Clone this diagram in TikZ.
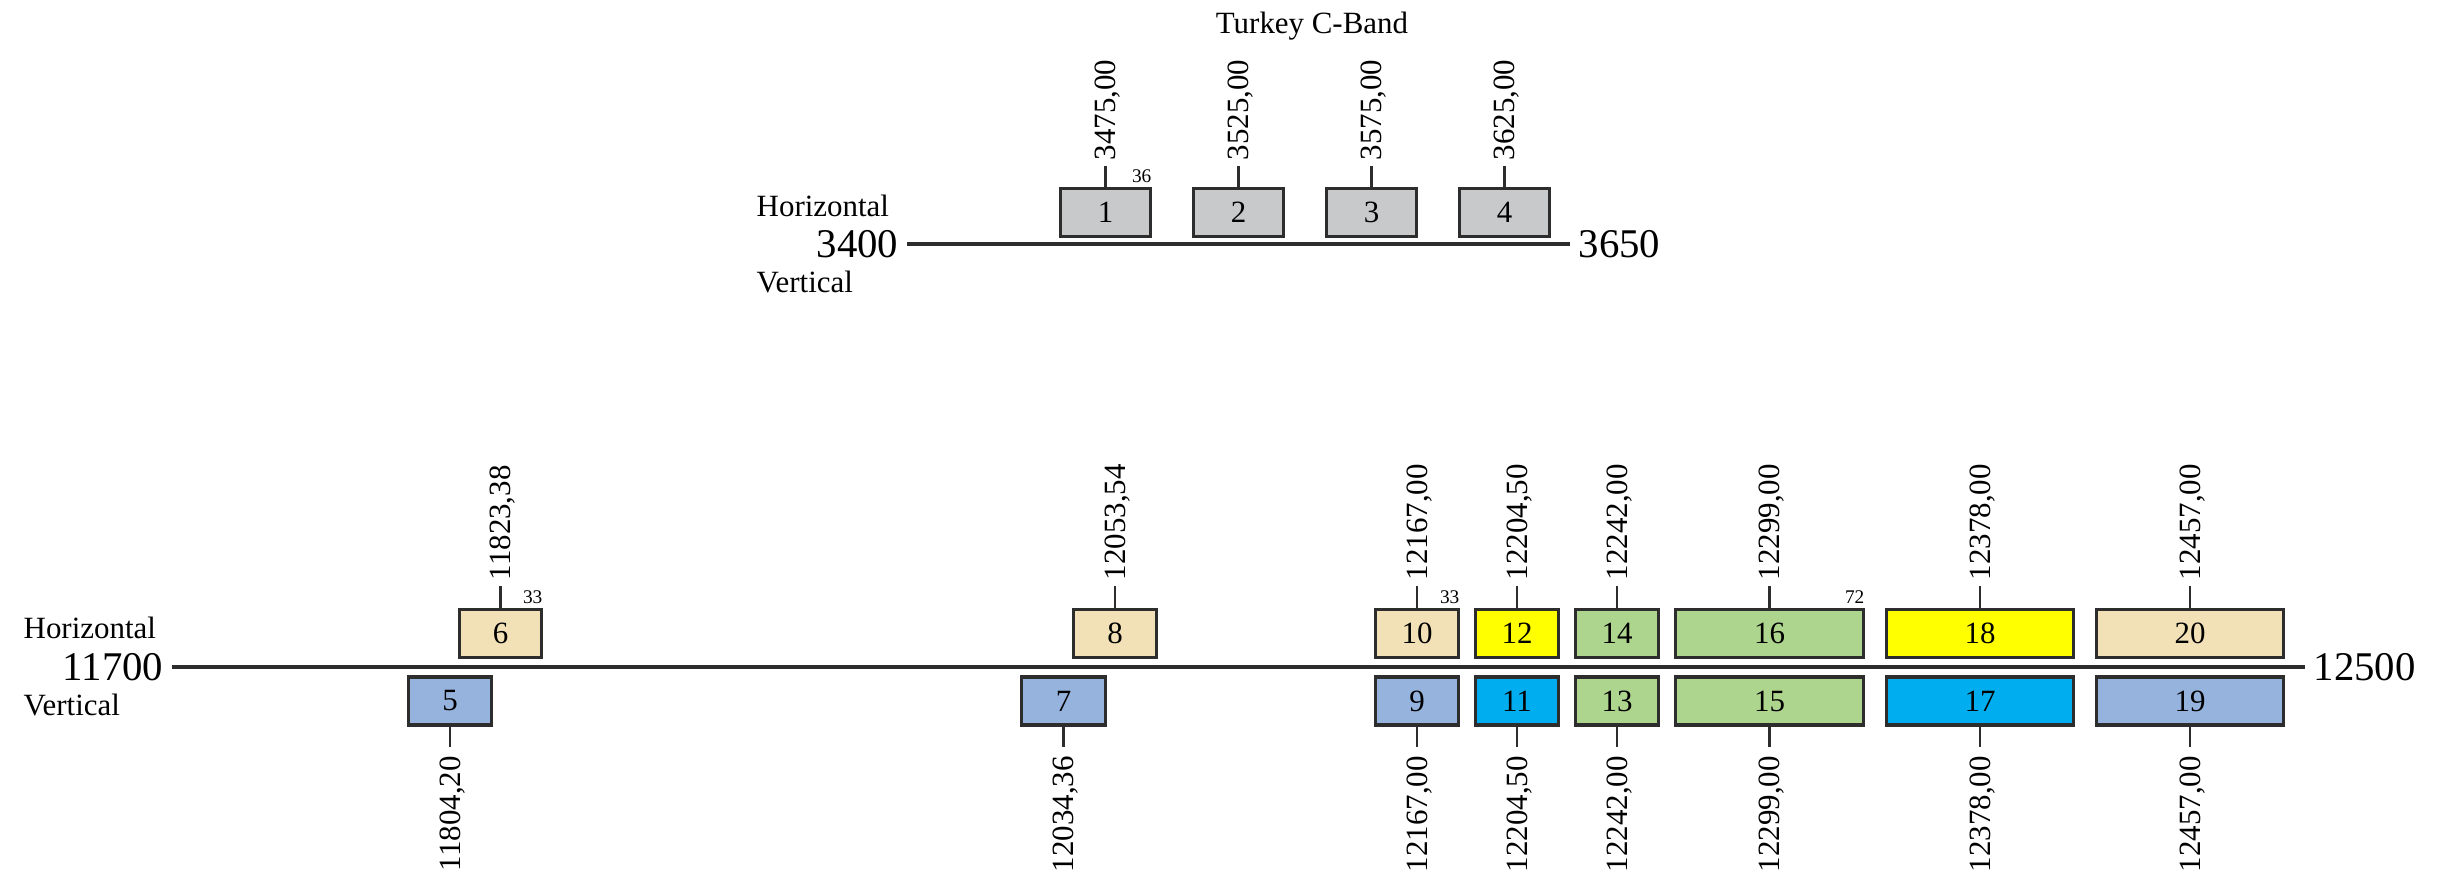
\documentclass[tikz,border=0pt]{standalone}
\usepackage{fontspec}
\setmainfont{Liberation Serif}
\usepackage{tikz}
\usepackage{xcolor}
\usetikzlibrary{positioning, calc}

\definecolor{chgray}{RGB}{200,201,203}
\definecolor{chtan}{RGB}{242,225,183}
\definecolor{chblue}{RGB}{149,179,221}
\definecolor{chyellow}{RGB}{255,255,0}
\definecolor{chcyan}{RGB}{0,174,239}
\definecolor{chgreen}{RGB}{174,213,142}
\definecolor{edgegray}{RGB}{45,45,45}

\begin{document}
\begin{tikzpicture}[
  every node/.style={font=\fontsize{8.8}{10}\selectfont},
  chan/.style={draw=edgegray, line width=0.9pt, minimum height=0.48cm, inner sep=0pt},
  freq/.style={rotate=90, inner xsep=0.05cm, inner ysep=0pt, text depth=0pt},
  pol/.style={anchor=base west, inner sep=0pt},
  lim/.style={font=\fontsize{11.6}{13}\selectfont, text depth=0pt, inner sep=0.08cm},
  chcount/.style={font=\fontsize{5.5}{6}\selectfont, anchor=south east, inner sep=0pt, text depth=0pt},
  stem/.style={draw=edgegray, line width=0.65pt},
  band/.style={draw=edgegray, line width=1pt}
]
\useasboundingbox (0,0) rectangle (24.39,8.77);

% Top band: Turkey C-Band
\node[anchor=base] (title) at (13.12, 8.43) {Turkey C-Band};
\node[pol] (th) at (7.56, 6.60) {Horizontal};
\node[pol] (tv) at (7.56, 5.84) {Vertical};

\node[lim, anchor=east] (c0) at (9.07, 6.33) {3400};
\node[lim, anchor=west] (c1) at (15.70, 6.33) {3650};
\draw[band] (c0.east) -- (c1.west);

\node[chan, fill=chgray, minimum width=0.90cm] (t1) at (11.055, 6.645) {1};
\node[chan, fill=chgray, minimum width=0.90cm] (t2) at (12.385, 6.645) {2};
\node[chan, fill=chgray, minimum width=0.90cm] (t3) at (13.715, 6.645) {3};
\node[chan, fill=chgray, minimum width=0.90cm] (t4) at (15.045, 6.645) {4};

\node[freq, anchor=west] (ft1) at ([yshift=0.21cm]t1.north) {3475,00};
\node[freq, anchor=west] (ft2) at ([yshift=0.21cm]t2.north) {3525,00};
\node[freq, anchor=west] (ft3) at ([yshift=0.21cm]t3.north) {3575,00};
\node[freq, anchor=west] (ft4) at ([yshift=0.21cm]t4.north) {3625,00};
\draw[stem] (t1.north) -- (ft1.west);
\draw[stem] (t2.north) -- (ft2.west);
\draw[stem] (t3.north) -- (ft3.west);
\draw[stem] (t4.north) -- (ft4.west);
\node[chcount] (w36) at ([yshift=0.04cm]t1.north east) {36};

% Bottom band: Ku
\node[pol] (bh) at (0.23, 2.39) {Horizontal};
\node[pol] (bv) at (0.23, 1.62) {Vertical};

\node[lim, anchor=east] (k0) at (1.72, 2.10) {11700};
\node[lim, anchor=west] (k1) at (23.05, 2.10) {12500};
\draw[band] (k0.east) -- (k1.west);

% horizontal channels (above the line)
\node[chan, fill=chtan, minimum width=0.82cm] (b6) at (5.005, 2.435) {6};
\node[chan, fill=chtan, minimum width=0.83cm] (b8) at (11.15, 2.435) {8};
\node[chan, fill=chtan, minimum width=0.83cm] (b10) at (14.17, 2.435) {10};
\node[chan, fill=chyellow, minimum width=0.83cm] (b12) at (15.17, 2.435) {12};
\node[chan, fill=chgreen, minimum width=0.83cm] (b14) at (16.17, 2.435) {14};
\node[chan, fill=chgreen, minimum width=1.88cm] (b16) at (17.695, 2.435) {16};
\node[chan, fill=chyellow, minimum width=1.87cm] (b18) at (19.80, 2.435) {18};
\node[chan, fill=chtan, minimum width=1.87cm] (b20) at (21.90, 2.435) {20};

% vertical channels (below the line)
\node[chan, fill=chblue, minimum width=0.83cm] (b5) at (4.50, 1.76) {5};
\node[chan, fill=chblue, minimum width=0.84cm] (b7) at (10.635, 1.76) {7};
\node[chan, fill=chblue, minimum width=0.83cm] (b9) at (14.17, 1.76) {9};
\node[chan, fill=chcyan, minimum width=0.83cm] (b11) at (15.17, 1.76) {11};
\node[chan, fill=chgreen, minimum width=0.83cm] (b13) at (16.17, 1.76) {13};
\node[chan, fill=chgreen, minimum width=1.88cm] (b15) at (17.695, 1.76) {15};
\node[chan, fill=chcyan, minimum width=1.87cm] (b17) at (19.80, 1.76) {17};
\node[chan, fill=chblue, minimum width=1.87cm] (b19) at (21.90, 1.76) {19};

% frequencies above
\node[freq, anchor=west] (f6) at ([yshift=0.22cm]b6.north) {11823,38};
\node[freq, anchor=west] (f8) at ([yshift=0.22cm]b8.north) {12053,54};
\node[freq, anchor=west] (f10) at ([yshift=0.22cm]b10.north) {12167,00};
\node[freq, anchor=west] (f12) at ([yshift=0.22cm]b12.north) {12204,50};
\node[freq, anchor=west] (f14) at ([yshift=0.22cm]b14.north) {12242,00};
\node[freq, anchor=west] (f16) at ([yshift=0.22cm]b16.north) {12299,00};
\node[freq, anchor=west] (f18) at ([yshift=0.22cm]b18.north) {12378,00};
\node[freq, anchor=west] (f20) at ([yshift=0.22cm]b20.north) {12457,00};
\draw[stem] (b6.north) -- (f6.west);
\draw[stem] (b8.north) -- (f8.west);
\draw[stem] (b10.north) -- (f10.west);
\draw[stem] (b12.north) -- (f12.west);
\draw[stem] (b14.north) -- (f14.west);
\draw[stem] (b16.north) -- (f16.west);
\draw[stem] (b18.north) -- (f18.west);
\draw[stem] (b20.north) -- (f20.west);

% frequencies below
\node[freq, inner xsep=0.09cm, anchor=east] (f5) at ([yshift=-0.20cm]b5.south) {11804,20};
\node[freq, inner xsep=0.09cm, anchor=east] (f7) at ([yshift=-0.20cm]b7.south) {12034,36};
\node[freq, inner xsep=0.09cm, anchor=east] (f9) at ([yshift=-0.20cm]b9.south) {12167,00};
\node[freq, inner xsep=0.09cm, anchor=east] (f11) at ([yshift=-0.20cm]b11.south) {12204,50};
\node[freq, inner xsep=0.09cm, anchor=east] (f13) at ([yshift=-0.20cm]b13.south) {12242,00};
\node[freq, inner xsep=0.09cm, anchor=east] (f15) at ([yshift=-0.20cm]b15.south) {12299,00};
\node[freq, inner xsep=0.09cm, anchor=east] (f17) at ([yshift=-0.20cm]b17.south) {12378,00};
\node[freq, inner xsep=0.09cm, anchor=east] (f19) at ([yshift=-0.20cm]b19.south) {12457,00};
\draw[stem] (b5.south) -- (f5.east);
\draw[stem] (b7.south) -- (f7.east);
\draw[stem] (b9.south) -- (f9.east);
\draw[stem] (b11.south) -- (f11.east);
\draw[stem] (b13.south) -- (f13.east);
\draw[stem] (b15.south) -- (f15.east);
\draw[stem] (b17.south) -- (f17.east);
\draw[stem] (b19.south) -- (f19.east);

% transponder widths
\node[chcount] (w33a) at ([yshift=0.04cm]b6.north east) {33};
\node[chcount] (w33b) at ([yshift=0.04cm]b10.north east) {33};
\node[chcount] (w72) at ([yshift=0.04cm]b16.north east) {72};

\end{tikzpicture}
\end{document}
